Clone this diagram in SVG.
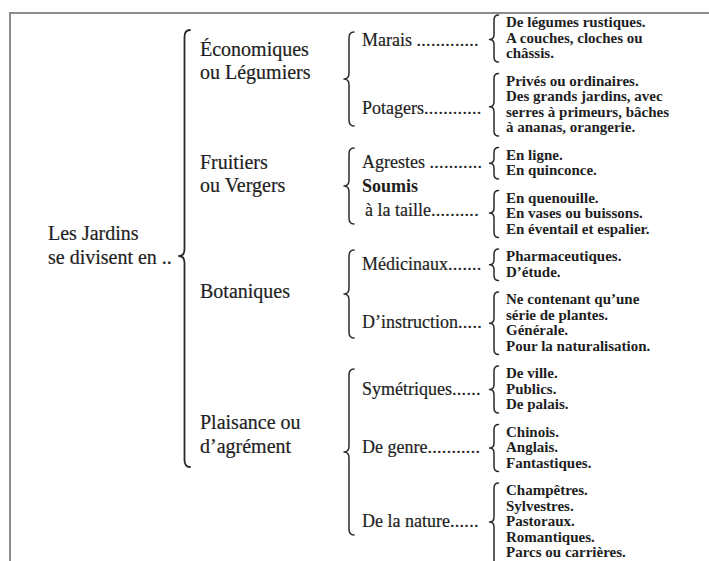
<svg xmlns="http://www.w3.org/2000/svg" width="709" height="561" viewBox="0 0 709 561">
<style>
text{font-family:"Liberation Serif","Times New Roman",serif;fill:#1e1e1e}
.l0,.l1{font-size:20px;stroke:#1e1e1e;stroke-width:0.2}
.l2{font-size:18px;stroke:#1e1e1e;stroke-width:0.2}
.b{font-weight:bold;stroke:none}
.l3{font-size:15px;font-weight:bold}
.dots{letter-spacing:0.3px}
.brace{fill:none;stroke:#2a2a2a;stroke-width:1.5;stroke-linecap:round;stroke-linejoin:round}
.big{stroke-width:1.8}
.frame{fill:none;stroke:#8c8c8c;stroke-width:2}
</style>
<rect width="709" height="561" fill="#fff"/>
<path class="frame" d="M10,561 V13 H709"/>

<g id="connectors">
<path class="brace big" d="M190,30 Q184.5,30 184.5,37 V249 Q184.5,256 179,256 Q184.5,256 184.5,263 V460 Q184.5,467 190,467"/>
<path class="brace" d="M354,32 Q349,32 349,38 V73 Q349,79 344,79 Q349,79 349,85 V120 Q349,126 354,126"/>
<path class="brace" d="M354,148 Q349,148 349,154 V180 Q349,186 344,186 Q349,186 349,192 V218 Q349,224 354,224"/>
<path class="brace" d="M354,250 Q349,250 349,256 V288 Q349,294 344,294 Q349,294 349,300 V332 Q349,338 354,338"/>
<path class="brace" d="M354,369 Q349,369 349,375 V446 Q349,452 344,452 Q349,452 349,458 V529 Q349,535 354,535"/>
<path class="brace" d="M498.5,15 Q494,15 494,20 V34.5 Q494,39.5 489.5,39.5 Q494,39.5 494,44.5 V57 Q494,62 498.5,62"/>
<path class="brace" d="M498.5,73.5 Q494,73.5 494,78.5 V101.75 Q494,106.75 489.5,106.75 Q494,106.75 494,111.75 V131 Q494,136 498.5,136"/>
<path class="brace" d="M498.5,147.5 Q494,147.5 494,152.5 V158.25 Q494,163.25 489.5,163.25 Q494,163.25 494,168.25 V174 Q494,179 498.5,179"/>
<path class="brace" d="M498.5,190.5 Q494,190.5 494,195.5 V208 Q494,213 489.5,213 Q494,213 494,218 V232.5 Q494,237.5 498.5,237.5"/>
<path class="brace" d="M498.5,249 Q494,249 494,254 V259.75 Q494,264.75 489.5,264.75 Q494,264.75 494,269.75 V275.5 Q494,280.5 498.5,280.5"/>
<path class="brace" d="M498.5,292 Q494,292 494,297 V318.25 Q494,323.25 489.5,323.25 Q494,323.25 494,328.25 V349.5 Q494,354.5 498.5,354.5"/>
<path class="brace" d="M498.5,366 Q494,366 494,371 V384.5 Q494,389.5 489.5,389.5 Q494,389.5 494,394.5 V408 Q494,413 498.5,413"/>
<path class="brace" d="M498.5,424.5 Q494,424.5 494,429.5 V443 Q494,448 489.5,448 Q494,448 494,453 V466.5 Q494,471.5 498.5,471.5"/>
<path class="brace" d="M498.5,483 Q494,483 494,488 V517 Q494,522 489.5,522 Q494,522 494,527 V566"/>
</g>

<g id="n-jardins"><text class="l0" x="48" y="240">Les Jardins</text><text class="l0" x="48" y="264">se divisent en ..</text></g>

<g id="n-economiques"><text class="l1" x="200" y="56">Économiques</text><text class="l1" x="200" y="79">ou Légumiers</text></g>
<g id="n-fruitiers"><text class="l1" x="200" y="169">Fruitiers</text><text class="l1" x="200" y="192">ou Vergers</text></g>
<g id="n-botaniques"><text class="l1" x="200" y="298">Botaniques</text></g>
<g id="n-plaisance"><text class="l1" x="200" y="429">Plaisance ou</text><text class="l1" x="200" y="453">d’agrément</text></g>

<g id="n-marais"><text class="l2" x="362" y="46">Marais <tspan class="dots">.............</tspan></text></g>
<g id="n-potagers"><text class="l2" x="362" y="114">Potagers<tspan class="dots">............</tspan></text></g>
<g id="n-agrestes"><text class="l2" x="362" y="168">Agrestes <tspan class="dots">...........</tspan></text></g>
<g id="n-soumis"><text class="l2 b" x="362" y="192">Soumis</text><text class="l2" x="365" y="216">à la taille<tspan class="dots">..........</tspan></text></g>
<g id="n-medicinaux"><text class="l2" x="362" y="270">Médicinaux<tspan class="dots">.......</tspan></text></g>
<g id="n-instruction"><text class="l2" x="362" y="328">D’instruction<tspan class="dots">.....</tspan></text></g>
<g id="n-symetriques"><text class="l2" x="362" y="394.5">Symétriques<tspan class="dots">......</tspan></text></g>
<g id="n-genre"><text class="l2" x="362" y="453">De genre<tspan class="dots">...........</tspan></text></g>
<g id="n-nature"><text class="l2" x="362" y="527">De la nature<tspan class="dots">......</tspan></text></g>

<g id="n-marais-list" class="l3"><text x="506" y="27">De légumes rustiques.</text><text x="506" y="42.5">A couches, cloches ou</text><text x="506" y="58">châssis.</text></g>
<g id="n-potagers-list" class="l3"><text x="506" y="85.5">Privés ou ordinaires.</text><text x="506" y="101">Des grands jardins, avec</text><text x="506" y="116.5">serres à primeurs, bâches</text><text x="506" y="132">à ananas, orangerie.</text></g>
<g id="n-agrestes-list" class="l3"><text x="506" y="159.5">En ligne.</text><text x="506" y="175">En quinconce.</text></g>
<g id="n-soumis-list" class="l3"><text x="506" y="202.5">En quenouille.</text><text x="506" y="218">En vases ou buissons.</text><text x="506" y="233.5">En éventail et espalier.</text></g>
<g id="n-medicinaux-list" class="l3"><text x="506" y="261">Pharmaceutiques.</text><text x="506" y="276.5">D’étude.</text></g>
<g id="n-instruction-list" class="l3"><text x="506" y="304">Ne contenant qu’une</text><text x="506" y="319.5">série de plantes.</text><text x="506" y="335">Générale.</text><text x="506" y="350.5">Pour la naturalisation.</text></g>
<g id="n-symetriques-list" class="l3"><text x="506" y="378">De ville.</text><text x="506" y="393.5">Publics.</text><text x="506" y="409">De palais.</text></g>
<g id="n-genre-list" class="l3"><text x="506" y="436.5">Chinois.</text><text x="506" y="452">Anglais.</text><text x="506" y="467.5">Fantastiques.</text></g>
<g id="n-nature-list" class="l3"><text x="506" y="495">Champêtres.</text><text x="506" y="510.5">Sylvestres.</text><text x="506" y="526">Pastoraux.</text><text x="506" y="541.5">Romantiques.</text><text x="506" y="557">Parcs ou carrières.</text></g>
</svg>
